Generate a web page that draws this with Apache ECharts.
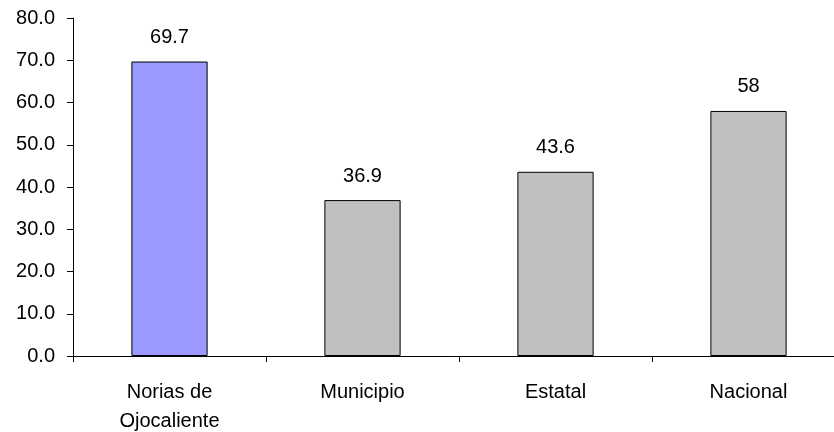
<!DOCTYPE html>
<html><head><meta charset="utf-8">
<script src="https://cdn.jsdelivr.net/npm/echarts@6/dist/echarts.min.js"></script>
<style>html,body{margin:0;padding:0;background:#fff}#c{width:834px;height:432px}</style>
</head><body><div id="c"></div>
<script>
const categories = ['Norias de\nOjocaliente', 'Municipio', 'Estatal', 'Nacional'];
const values = [69.7, 36.9, 43.6, 58];
const barColors = ['#9999FF', '#C0C0C0', '#C0C0C0', '#C0C0C0'];
const yTicks = { min: 0, max: 80, interval: 10 };

const chart = echarts.init(document.getElementById('c'), null, { renderer: 'canvas' });
const font = 'Liberation Sans, Arial, sans-serif';
chart.setOption({
  animation: false,
  backgroundColor: '#fff',
  grid: { left: 73, top: 18, width: 772, bottom: 76, containLabel: false, outerBoundsMode: 'none' },
  xAxis: {
    type: 'category',
    data: categories,
    axisLine: { lineStyle: { color: '#000', width: 1 } },
    axisTick: { show: true, length: 6, lineStyle: { color: '#000' }, alignWithLabel: false },
    axisLabel: { color: '#000', fontSize: 20, fontFamily: font, margin: 22, lineHeight: 29, interval: 0 },
    splitLine: { show: false }
  },
  yAxis: {
    type: 'value',
    min: yTicks.min, max: yTicks.max, interval: yTicks.interval,
    axisLine: { show: true, lineStyle: { color: '#000', width: 1 } },
    axisTick: { show: true, length: 6, lineStyle: { color: '#000' } },
    axisLabel: { color: '#000', fontSize: 20, fontFamily: font, margin: 18, formatter: v => v.toFixed(1) },
    splitLine: { show: false }
  },
  series: [{
    type: 'bar',
    data: values.map((v, i) => ({ value: v, itemStyle: { color: barColors[i] } })),
    barWidth: '39.5%',
    itemStyle: { borderColor: '#000', borderWidth: 1 },
    label: { show: true, position: 'top', distance: 14, color: '#000', fontSize: 20, fontFamily: font, formatter: p => String(p.value) }
  }]
});
</script></body></html>
